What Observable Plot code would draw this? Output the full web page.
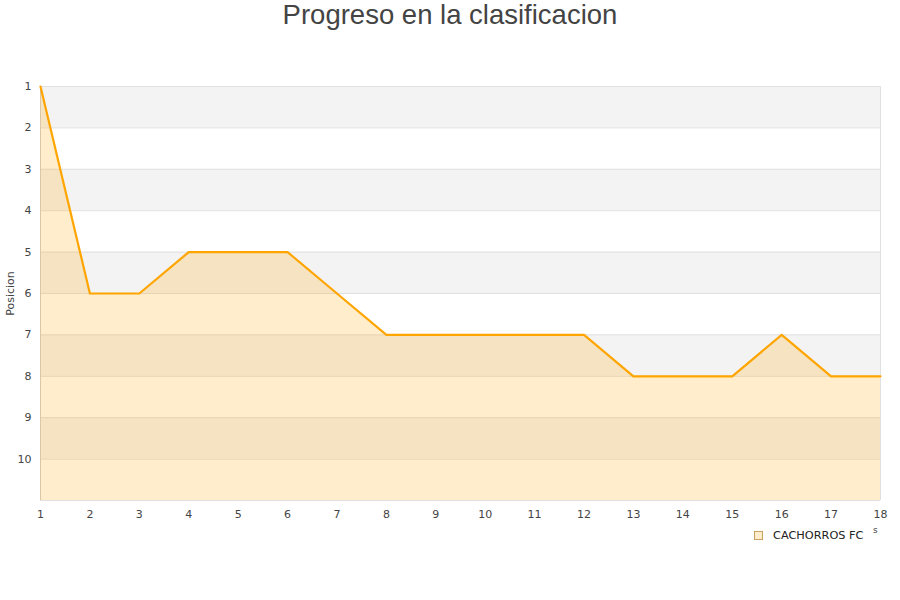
<!DOCTYPE html>
<html>
<head>
<meta charset="utf-8">
<script src="https://cdn.jsdelivr.net/npm/d3@7"></script>
<script src="https://cdn.jsdelivr.net/npm/@observablehq/plot@0.6"></script>
<style>
  html, body { margin: 0; padding: 0; background: #fff; }
  #wrap { position: relative; width: 900px; height: 600px; overflow: hidden; }
  #title { position: absolute; left: 0; top: -2px; width: 900px; text-align: center;
           font-family: "Liberation Sans", Arial, sans-serif; font-size: 27.5px; color: #444; line-height: 34px; }
  #legend { position: absolute; left: 754px; top: 529px; font-family: "DejaVu Sans", sans-serif;
            font-size: 11.3px; color: #222; display: flex; align-items: center; }
  #legend .sw { width: 7px; height: 7px; border: 1px solid #c8a060; background: #ffedcc; margin-right: 10px; }
  #frag { position: absolute; left: 873px; top: 525px; font-family: "DejaVu Sans", sans-serif; font-size: 9px; color: #444; }
</style>
</head>
<body>
<div id="wrap">
  <div id="chart"></div>
  <div id="title">Progreso en la clasificacion</div>
  <div id="legend"><span class="sw"></span>CACHORROS FC</div>
  <div id="frag">s</div>
</div>
<script>
// Matchday (jornada) and league position of the team
const team = "CACHORROS FC";
const jornadas = [1, 2, 3, 4, 5, 6, 7, 8, 9, 10, 11, 12, 13, 14, 15, 16, 17, 18];
const posiciones = [1, 6, 6, 5, 5, 5, 6, 7, 7, 7, 7, 7, 8, 8, 8, 7, 8, 8];
const yTicks = [1, 2, 3, 4, 5, 6, 7, 8, 9, 10];
const gridLines = [1, 2, 3, 4, 5, 6, 7, 8, 9, 10, 11];
const bandStarts = [1, 3, 5, 7, 9];
const lastPlace = 11;

const data = jornadas.map((j, i) => ({ jornada: j, pos: posiciones[i] }));

const chart = Plot.plot({
  width: 900,
  height: 600,
  marginLeft: 40,
  marginRight: 20,
  marginTop: 86,
  marginBottom: 100,
  style: { fontFamily: "DejaVu Sans, sans-serif", fontSize: "11px", color: "#444", background: "transparent" },
  x: { domain: [1, 18], ticks: jornadas, tickSize: 0, tickPadding: 10, label: null, tickFormat: d => String(d) },
  y: { domain: [1, lastPlace], reverse: true, ticks: yTicks, tickSize: 0, tickPadding: 9, label: null },
  marks: [
    // alternating background bands
    Plot.rect(bandStarts, { x1: 1, x2: 18, y1: d => d, y2: d => d + 1, fill: "#f3f3f3" }),
    Plot.ruleY(gridLines, { stroke: "#e0e0e0", strokeWidth: 1 }),
    Plot.ruleX([1], { stroke: "#d0d0d0", strokeWidth: 1 }),
    Plot.ruleX([18], { stroke: "#e0e0e0", strokeWidth: 1 }),
    Plot.areaY(data, { x: "jornada", y1: lastPlace, y2: "pos", fill: "#ffa500", fillOpacity: 0.2 }),
    Plot.line(data, { x: "jornada", y: "pos", stroke: "#ffa500", strokeWidth: 2.2 }),
    Plot.axisX({ ticks: jornadas, tickSize: 0, tickPadding: 10, fill: "#444" }),
    Plot.axisY({ ticks: yTicks, tickSize: 0, tickPadding: 9, fill: "#444" }),
    Plot.text(["Posicion"], { frameAnchor: "left", textAnchor: "middle", dx: -30, rotate: -90, fill: "#444", fontSize: 11 })
  ]
});
document.getElementById("chart").appendChild(chart);
</script>
</body>
</html>
